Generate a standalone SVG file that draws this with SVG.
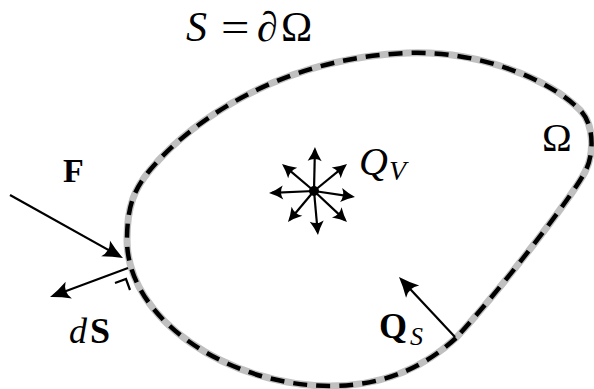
<svg xmlns="http://www.w3.org/2000/svg" width="594" height="389" viewBox="0 0 594 389">
<style>
.t{font-family:"Liberation Serif","Times New Roman",serif;fill:#000}
.i{font-style:italic}
.b{font-weight:bold}
.arr{stroke:#000;stroke-width:2.2;fill:none}
.sarr{stroke:#000;stroke-width:2.2;fill:none}
.bd{fill:none}
</style>
<defs>
<marker id="big" viewBox="-22 -11 24 22" refX="-5" refY="0" markerWidth="24" markerHeight="22" orient="auto" markerUnits="userSpaceOnUse">
<path d="M0,0 Q-10,-3.5 -20,-9 Q-14,0 -20,9 Q-10,3.5 0,0 Z" fill="#000"/>
</marker>
<marker id="small" viewBox="-16 -9 18 18" refX="-3" refY="0" markerWidth="18" markerHeight="18" orient="auto" markerUnits="userSpaceOnUse">
<path d="M0,0 Q-7,-2.5 -14,-7 Q-10,0 -14,7 Q-7,2.5 0,0 Z" fill="#000"/>
</marker>
</defs>
<g id="domain">
<path d="M456,338 C430,362 390,386 330,386 C230,386 127,320 127,240 C127,205 135,188 150,170 C190,122 280,58 407,53 C480,50 550,80 580,110 C595,125 594,155 585,172 C570,200 500,290 456,338 Z" class="bd" stroke="#c0c0c0" stroke-width="7"/>
<path d="M456,338 C430,362 390,386 330,386 C230,386 127,320 127,240 C127,205 135,188 150,170 C190,122 280,58 407,53 C480,50 550,80 580,110 C595,125 594,155 585,172 C570,200 500,290 456,338 Z" class="bd" stroke="#000" stroke-width="4.5" stroke-dasharray="14 9"/>
</g>
<g id="source">
<circle cx="314" cy="191" r="5" fill="#000"/>
</g>
<g id="connectors">
<line class="arr" x1="10" y1="195" x2="118.6" y2="255.6" marker-end="url(#big)"/>
<line class="arr" x1="128" y1="268" x2="54.7" y2="295.3" marker-end="url(#big)"/>
<polyline class="arr" points="115,283 126,279 130,290" stroke-width="1.8"/>
<line class="arr" x1="455" y1="337" x2="402.4" y2="280.7" marker-end="url(#big)"/>
<line class="sarr" x1="314" y1="191" x2="314.9" y2="150" marker-end="url(#small)"/>
<line class="sarr" x1="314" y1="191" x2="344.7" y2="165.9" marker-end="url(#small)"/>
<line class="sarr" x1="314" y1="191" x2="352" y2="196.6" marker-end="url(#small)"/>
<line class="sarr" x1="314" y1="191" x2="344.8" y2="219.9" marker-end="url(#small)"/>
<line class="sarr" x1="314" y1="191" x2="317.7" y2="232" marker-end="url(#small)"/>
<line class="sarr" x1="314" y1="191" x2="289.9" y2="219.7" marker-end="url(#small)"/>
<line class="sarr" x1="314" y1="191" x2="272" y2="192.9" marker-end="url(#small)"/>
<line class="sarr" x1="314" y1="191" x2="284.3" y2="165.9" marker-end="url(#small)"/>
</g>
<g id="labels">
<text class="t i" font-size="42" x="186" y="41">S</text>
<text class="t" font-size="42" transform="translate(221,41) scale(1.2,1)">=</text>
<text class="t" font-size="42" y="41"><tspan x="257">∂</tspan><tspan x="281">Ω</tspan></text>
<text class="t" font-size="40" x="542" y="151">Ω</text>
<text class="t" y="175"><tspan class="i" font-size="40" x="359">Q</tspan><tspan class="i" font-size="28" x="389" dy="5">V</tspan></text>
<text class="t b" font-size="34" x="63" y="182">F</text>
<text class="t" font-size="36" y="343"><tspan class="i" x="69">d</tspan><tspan class="b" x="90">S</tspan></text>
<text class="t" y="338"><tspan class="b" font-size="36" x="379">Q</tspan><tspan class="i" font-size="26" x="410" dy="7">S</tspan></text>
</g>
</svg>
